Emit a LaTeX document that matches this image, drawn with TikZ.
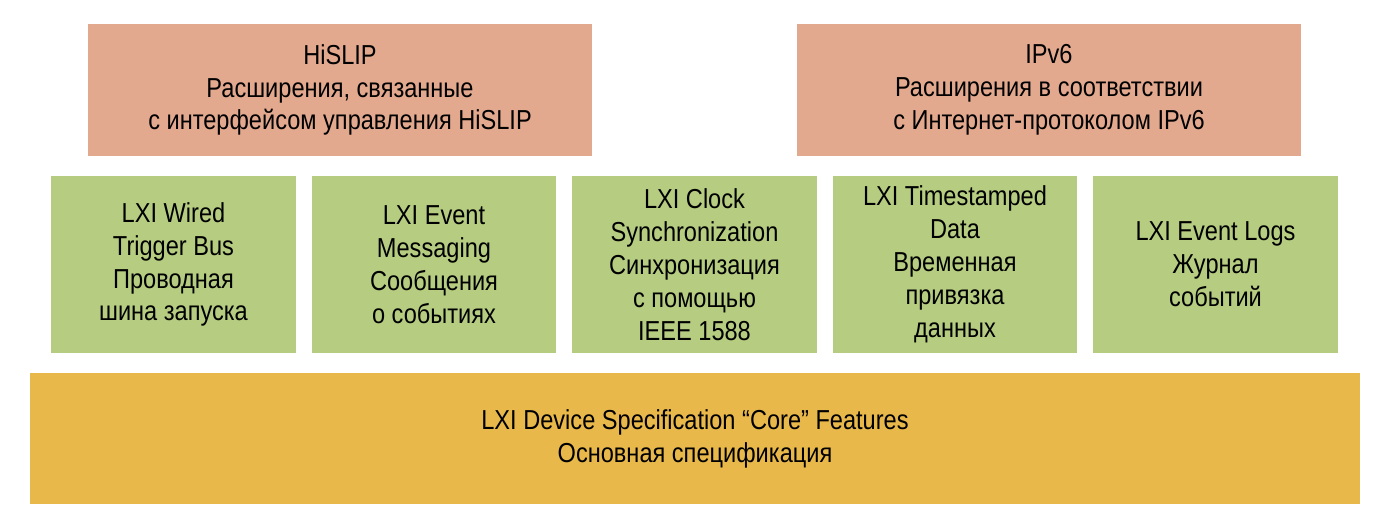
\documentclass[tikz,border=0pt]{standalone}
\usepackage{fontspec}
\setmainfont{Liberation Sans}[FakeStretch=0.86]
\definecolor{ext}{HTML}{E3A98F}
\definecolor{opt}{HTML}{B5CC81}
\definecolor{core}{HTML}{E8B84B}
\begin{document}
\begin{tikzpicture}[x=0.025cm,y=-0.025cm,
  blk/.style={inner sep=0pt,align=center,font=\fontsize{19.5}{23.4}\selectfont},
  extbox/.style={blk,fill=ext,minimum width=12.6cm,minimum height=3.3cm},
  optbox/.style={blk,fill=opt,minimum width=6.12cm,minimum height=4.42cm}]
\useasboundingbox (0,0) rectangle (1396,532);

\node[extbox] (hislip) at (340,90) {HiSLIP\\Расширения, связанные\\с интерфейсом управления HiSLIP};
\node[extbox] (ipv6) at (1049,90) {IPv6\\Расширения в соответствии\\с Интернет-протоколом IPv6};

\node[optbox] (wired) at (173.5,264.5) {LXI Wired\\Trigger Bus\\Проводная\\шина запуска};
\node[optbox] (event) at (434,264.5) {LXI Event\\Messaging\\Сообщения\\о событиях};
\node[optbox] (clock) at (694.5,264.5) {LXI Clock\\Synchronization\\Синхронизация\\с помощью\\IEEE 1588};
\node[optbox] (stamp) at (955,264.5) {LXI Timestamped\\Data\\Временная\\привязка\\данных};
\node[optbox] (logs) at (1215.5,264.5) {LXI Event Logs\\Журнал\\событий};

\node[blk,fill=core,minimum width=33.25cm,minimum height=3.275cm] (corespec) at (695,438.5)
  {LXI Device Specification “Core” Features\\Основная спецификация};
\end{tikzpicture}
\end{document}
